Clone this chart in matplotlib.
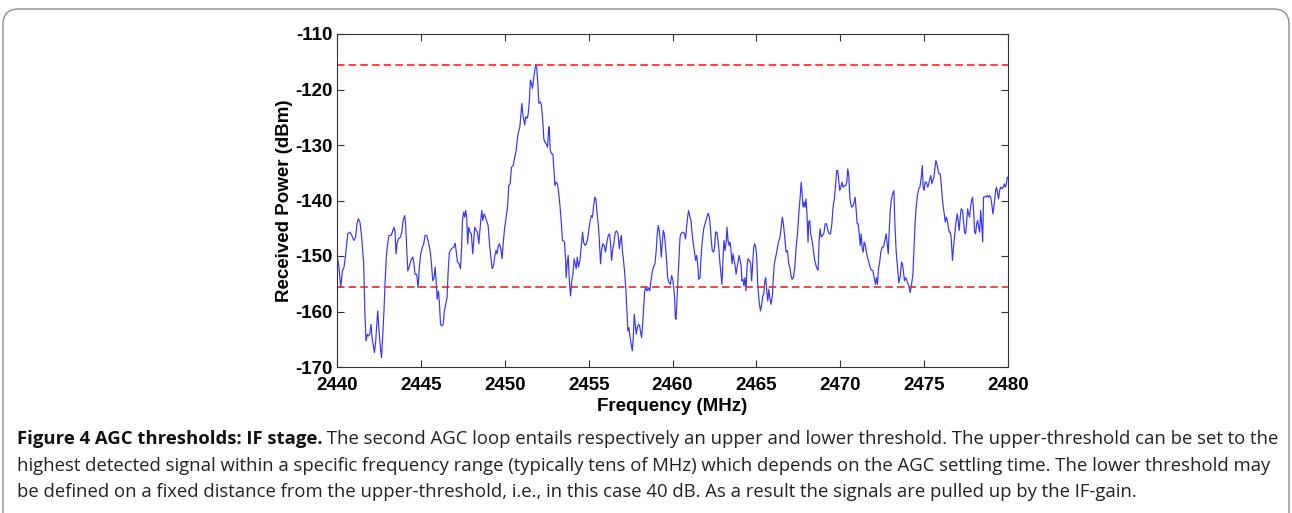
import matplotlib
matplotlib.use("Agg")
import matplotlib.pyplot as plt
from matplotlib.patches import FancyBboxPatch

# Received power sweep over the 2.4 GHz ISM band (MHz, dBm)
freq_mhz = [
    2440.00, 2440.12, 2440.22, 2440.32, 2440.42, 2440.52, 2440.64, 2440.78, 2440.88, 2441.01,
    2441.11, 2441.19, 2441.27, 2441.37, 2441.47, 2441.53, 2441.59, 2441.67, 2441.73, 2441.81,
    2441.87, 2441.95, 2442.03, 2442.09, 2442.15, 2442.23, 2442.31, 2442.37, 2442.43, 2442.49,
    2442.57, 2442.65, 2442.72, 2442.80, 2442.86, 2442.94, 2443.02, 2443.10, 2443.22, 2443.30,
    2443.40, 2443.46, 2443.52, 2443.58, 2443.66, 2443.78, 2443.86, 2443.94, 2444.04, 2444.10,
    2444.16, 2444.22, 2444.30, 2444.40, 2444.52, 2444.59, 2444.65, 2444.75, 2444.83, 2444.91,
    2444.99, 2445.09, 2445.17, 2445.25, 2445.35, 2445.45, 2445.55, 2445.63, 2445.71, 2445.79,
    2445.85, 2445.91, 2445.97, 2446.05, 2446.11, 2446.17, 2446.25, 2446.33, 2446.40, 2446.48,
    2446.56, 2446.64, 2446.70,
    2446.82, 2446.96, 2447.04, 2447.10, 2447.18, 2447.28, 2447.36, 2447.42, 2447.48, 2447.55,
    2447.61, 2447.67, 2447.73, 2447.79, 2447.85, 2447.93, 2448.01, 2448.09, 2448.15, 2448.21,
    2448.29, 2448.37, 2448.45, 2448.51, 2448.57, 2448.63, 2448.69, 2448.77, 2448.85, 2448.91,
    2449.01, 2449.09, 2449.17, 2449.25, 2449.33, 2449.40, 2449.48, 2449.54, 2449.60, 2449.68,
    2449.76, 2449.84, 2449.92, 2450.00, 2450.10, 2450.18, 2450.24, 2450.32, 2450.40, 2450.50,
    2450.60, 2450.68, 2450.76, 2450.84, 2450.90, 2450.96, 2451.02, 2451.08, 2451.14, 2451.19,
    2451.25, 2451.33, 2451.39, 2451.47, 2451.53, 2451.59, 2451.65, 2451.71, 2451.79, 2451.85,
    2451.91, 2451.97, 2452.03, 2452.11, 2452.19, 2452.27, 2452.33, 2452.39, 2452.47, 2452.55,
    2452.61, 2452.65, 2452.71, 2452.79, 2452.87, 2452.93, 2452.99, 2453.06, 2453.14, 2453.22,
    2453.30, 2453.38, 2453.44,
    2453.52, 2453.56, 2453.62, 2453.66, 2453.72, 2453.78, 2453.84, 2453.92, 2454.00, 2454.08,
    2454.14, 2454.20, 2454.26, 2454.32, 2454.40, 2454.48, 2454.56, 2454.64, 2454.70, 2454.78,
    2454.86, 2454.94, 2455.02, 2455.10, 2455.16, 2455.23, 2455.29, 2455.37, 2455.43, 2455.51,
    2455.59, 2455.65, 2455.71, 2455.77, 2455.85, 2455.93, 2456.01, 2456.09, 2456.17, 2456.25,
    2456.31, 2456.37, 2456.43, 2456.51, 2456.59, 2456.67, 2456.75, 2456.83, 2456.89, 2456.95,
    2457.01, 2457.06, 2457.14, 2457.22, 2457.28, 2457.34, 2457.40, 2457.46, 2457.54, 2457.60,
    2457.66, 2457.72, 2457.78, 2457.84, 2457.90, 2457.98, 2458.04, 2458.10, 2458.16, 2458.22,
    2458.28, 2458.34, 2458.40, 2458.48, 2458.56, 2458.64, 2458.72, 2458.80, 2458.87, 2458.95,
    2459.03, 2459.09, 2459.15, 2459.21, 2459.27, 2459.33, 2459.39, 2459.45, 2459.51, 2459.57,
    2459.65, 2459.71, 2459.79, 2459.87, 2459.95, 2460.03, 2460.11, 2460.17,
    2460.21, 2460.27, 2460.33, 2460.39, 2460.45, 2460.51, 2460.60, 2460.70, 2460.78, 2460.84,
    2460.90, 2460.96, 2461.02, 2461.10, 2461.16, 2461.24, 2461.32, 2461.38, 2461.44, 2461.50,
    2461.56, 2461.64, 2461.70, 2461.78, 2461.86, 2461.94, 2462.02, 2462.12, 2462.20, 2462.26,
    2462.31, 2462.37, 2462.45, 2462.51, 2462.57, 2462.65, 2462.71, 2462.77, 2462.83, 2462.89,
    2462.95, 2463.01, 2463.07, 2463.13, 2463.19, 2463.25, 2463.31, 2463.37, 2463.43, 2463.49,
    2463.55, 2463.61, 2463.67, 2463.73, 2463.79, 2463.85, 2463.91, 2463.97, 2464.03, 2464.09,
    2464.14, 2464.20, 2464.26, 2464.32, 2464.38, 2464.44, 2464.50, 2464.58, 2464.66, 2464.72,
    2464.78, 2464.84, 2464.90, 2464.96, 2465.02, 2465.08, 2465.16, 2465.24, 2465.32, 2465.38,
    2465.44, 2465.50, 2465.56, 2465.62, 2465.68, 2465.74, 2465.80, 2465.88, 2465.96, 2466.01,
    2466.07, 2466.15, 2466.23, 2466.31, 2466.39, 2466.47, 2466.55, 2466.61, 2466.69, 2466.77,
    2466.85, 2466.93,
    2467.01, 2467.05, 2467.13, 2467.21, 2467.29, 2467.37, 2467.45, 2467.53, 2467.61, 2467.67,
    2467.73, 2467.78, 2467.84, 2467.90, 2467.96, 2468.02, 2468.08, 2468.12, 2468.18, 2468.24,
    2468.32, 2468.40, 2468.48, 2468.58, 2468.68, 2468.74, 2468.80, 2468.86, 2468.94, 2469.02,
    2469.10, 2469.18, 2469.26, 2469.34, 2469.42, 2469.50, 2469.57, 2469.65, 2469.73, 2469.79,
    2469.85, 2469.91, 2469.97, 2470.03, 2470.11, 2470.17, 2470.25, 2470.33, 2470.39, 2470.45,
    2470.51, 2470.57, 2470.63, 2470.69, 2470.77, 2470.83, 2470.89, 2470.95, 2471.01, 2471.07,
    2471.13, 2471.19, 2471.25, 2471.31, 2471.37, 2471.42, 2471.48, 2471.54, 2471.62, 2471.70,
    2471.78, 2471.86, 2471.94, 2472.02, 2472.10, 2472.16, 2472.22, 2472.28, 2472.34, 2472.42,
    2472.50, 2472.58, 2472.66, 2472.74, 2472.80, 2472.86, 2472.92, 2472.98, 2473.04, 2473.12,
    2473.20, 2473.25, 2473.33, 2473.41, 2473.49, 2473.57, 2473.65,
    2473.71, 2473.77, 2473.83, 2473.89, 2473.95, 2474.01, 2474.09, 2474.17, 2474.25, 2474.33,
    2474.39, 2474.45, 2474.51, 2474.59, 2474.67, 2474.75, 2474.83, 2474.89, 2474.94, 2475.00,
    2475.06, 2475.14, 2475.22, 2475.28, 2475.34, 2475.40, 2475.46, 2475.52, 2475.58, 2475.64,
    2475.70, 2475.76, 2475.82, 2475.88, 2475.96, 2476.02, 2476.08, 2476.14, 2476.20, 2476.26,
    2476.32, 2476.38, 2476.44, 2476.50, 2476.56, 2476.61, 2476.69, 2476.75, 2476.81, 2476.89,
    2476.97, 2477.03, 2477.09, 2477.15, 2477.21, 2477.29, 2477.35, 2477.41, 2477.47, 2477.53,
    2477.59, 2477.65, 2477.71, 2477.77, 2477.83, 2477.89, 2477.95, 2478.01, 2478.07, 2478.13,
    2478.19, 2478.25, 2478.31, 2478.37, 2478.43, 2478.49, 2478.54, 2478.60, 2478.68, 2478.76,
    2478.84, 2478.90, 2478.96, 2479.02, 2479.10, 2479.18, 2479.26, 2479.32, 2479.38, 2479.44,
    2479.50, 2479.56, 2479.64, 2479.72, 2479.78, 2479.84, 2479.90, 2479.96, 2480.00,
]

power_dbm = [
    -149.9, -152.0, -155.7, -152.7, -152.0, -149.6, -146.0, -145.7, -146.3, -147.2,
    -146.6, -144.2, -143.3, -143.9, -146.6, -149.0, -151.4, -161.1, -165.3, -164.1,
    -164.4, -164.1, -162.3, -164.7, -165.9, -167.4, -165.3, -162.3, -159.9, -162.9,
    -165.9, -168.3, -164.7, -159.9, -155.1, -150.2, -147.8, -146.3, -146.3, -145.7,
    -144.8, -145.7, -149.6, -147.8, -146.9, -146.6, -145.7, -143.6, -142.7, -144.8,
    -149.0, -152.7, -152.0, -150.8, -150.2, -151.4, -153.3, -153.3, -155.7, -152.0,
    -149.6, -148.4, -147.8, -146.3, -146.3, -147.5, -149.0, -151.4, -154.5, -153.9,
    -152.0, -154.5, -157.8, -156.3, -158.7, -162.3, -162.6, -162.3, -159.9, -158.7,
    -157.5, -152.0, -149.3,
    -148.7, -148.4, -147.7, -149.0, -151.1, -151.4, -152.3, -149.0, -143.6, -142.1,
    -143.0, -141.8, -143.0, -147.8, -144.8, -145.7, -146.0, -149.6, -147.2, -144.8,
    -145.4, -145.7, -147.8, -145.7, -143.6, -141.8, -143.6, -142.4, -143.0, -143.6,
    -144.5, -147.8, -150.2, -152.3, -151.7, -150.2, -149.0, -149.6, -148.4, -147.8,
    -148.7, -150.5, -147.2, -144.8, -142.7, -140.6, -137.3, -137.0, -134.0, -133.7,
    -132.2, -131.0, -128.6, -127.4, -126.7, -124.6, -122.5, -124.6, -125.5, -126.4,
    -124.9, -125.2, -124.6, -121.9, -118.3, -118.9, -119.8, -118.3, -116.5, -115.5,
    -116.2, -118.9, -122.5, -122.2, -122.8, -125.8, -128.9, -129.5, -129.8, -130.4,
    -127.4, -126.7, -131.0, -131.6, -131.6, -134.3, -137.3, -136.7, -137.0, -138.8,
    -141.2, -144.2, -147.2,
    -147.3, -147.5, -150.2, -153.9, -151.4, -149.9, -153.9, -157.2, -154.5, -152.7,
    -150.5, -151.4, -152.3, -150.2, -152.0, -150.8, -148.4, -145.7, -147.5, -148.1,
    -147.8, -146.9, -145.1, -143.6, -142.7, -143.0, -141.2, -139.4, -139.7, -142.4,
    -144.8, -147.8, -151.4, -149.0, -147.8, -148.1, -149.3, -147.5, -146.3, -146.0,
    -147.8, -150.8, -149.0, -147.5, -145.7, -145.5, -146.0, -148.7, -147.2, -146.3,
    -149.0, -150.2, -152.7, -156.0, -159.9, -163.5, -162.9, -164.4, -165.9, -167.1,
    -164.7, -160.5, -162.3, -164.1, -162.9, -162.3, -162.6, -163.8, -164.7, -162.3,
    -159.3, -156.3, -155.7, -156.3, -155.7, -156.3, -154.5, -152.7, -152.0, -151.4,
    -149.0, -146.0, -144.5, -145.4, -147.2, -150.2, -147.8, -145.4, -146.0, -147.8,
    -150.8, -153.9, -154.8, -155.1, -153.5, -154.5, -156.9, -161.1,
    -161.4, -157.5, -153.9, -150.2, -146.6, -146.0, -145.7, -145.9, -146.9, -144.8,
    -143.0, -141.8, -142.7, -143.6, -145.7, -147.8, -149.6, -150.8, -149.9, -151.4,
    -154.2, -153.9, -150.2, -147.2, -145.1, -144.2, -143.3, -142.3, -143.0, -144.8,
    -147.2, -149.0, -149.3, -148.4, -145.7, -145.7, -147.2, -149.0, -151.4, -153.3,
    -155.1, -150.5, -147.2, -149.0, -147.8, -144.8, -147.2, -148.1, -147.5, -149.0,
    -151.4, -149.6, -150.8, -151.7, -153.3, -152.0, -151.1, -149.9, -150.8, -151.7,
    -154.5, -154.2, -155.4, -153.9, -156.3, -152.0, -150.5, -150.8, -151.4, -154.5,
    -151.4, -148.4, -147.8, -148.4, -150.2, -155.1, -158.1, -159.9, -158.7, -157.2,
    -156.9, -154.5, -153.9, -156.3, -158.1, -156.0, -157.5, -158.7, -156.9, -153.9,
    -151.4, -150.2, -149.0, -147.5, -146.9, -145.1, -143.0, -144.2, -146.6, -149.3,
    -149.0, -151.4,
    -152.3, -153.3, -154.2, -153.9, -152.0, -148.4, -146.0, -142.4, -139.4, -136.7,
    -138.8, -141.2, -140.3, -141.2, -139.7, -142.7, -147.5, -143.9, -143.6, -146.0,
    -147.2, -149.0, -150.8, -152.0, -152.6, -147.2, -145.1, -146.6, -146.3, -146.0,
    -144.2, -144.2, -145.4, -146.0, -146.0, -144.2, -141.2, -139.7, -136.7, -134.6,
    -134.6, -136.4, -138.2, -137.7, -136.7, -137.6, -137.3, -137.3, -136.7, -134.3,
    -135.5, -139.4, -140.6, -141.2, -140.9, -140.3, -139.4, -141.8, -144.2, -144.2,
    -146.0, -148.1, -146.0, -148.7, -149.3, -147.5, -147.8, -149.0, -150.2, -151.1,
    -152.0, -152.6, -152.6, -153.9, -155.1, -153.9, -155.1, -152.3, -151.4, -149.3,
    -148.4, -148.4, -147.2, -146.0, -147.8, -149.6, -145.4, -141.8, -140.0, -138.8,
    -138.2, -143.6, -149.0, -152.0, -154.8, -153.9, -151.1,
    -151.4, -152.9, -154.5, -153.9, -154.2, -154.8, -155.4, -156.6, -155.1, -153.3,
    -149.0, -144.8, -141.8, -139.4, -137.9, -137.6, -135.8, -133.7, -137.6, -138.2,
    -136.7, -136.7, -137.6, -137.0, -136.1, -135.5, -137.0, -136.4, -135.8, -134.3,
    -132.8, -133.4, -134.3, -135.2, -135.2, -137.0, -139.4, -141.2, -142.4, -143.9,
    -143.0, -143.6, -144.8, -145.7, -145.7, -146.6, -150.8, -148.4, -146.6, -144.2,
    -142.4, -143.6, -145.4, -143.0, -141.5, -141.8, -143.9, -145.7, -146.0, -144.2,
    -141.5, -142.4, -143.0, -141.2, -140.0, -139.4, -141.8, -145.7, -146.0, -144.2,
    -143.6, -144.8, -145.7, -141.8, -144.2, -147.5, -139.4, -139.3, -139.4, -139.1,
    -139.4, -139.1, -139.4, -140.3, -142.4, -140.6, -138.2, -137.6, -138.8, -139.7,
    -138.2, -137.6, -137.9, -137.6, -137.0, -137.6, -137.0, -135.8, -136.0,
]

# AGC thresholds: upper at the strongest detected signal, lower 40 dB below
upper_threshold = -115.5
lower_threshold = upper_threshold - 40.0

x_ticks = [2440, 2445, 2450, 2455, 2460, 2465, 2470, 2475, 2480]
y_ticks = [-170, -160, -150, -140, -130, -120, -110]

caption_bold = "Figure 4 AGC thresholds: IF stage."
caption_lines = [
    " The second AGC loop entails respectively an upper and lower threshold. The upper-threshold can be set to the",
    "highest detected signal within a specific frequency range (typically tens of MHz) which depends on the AGC settling time. The lower threshold may",
    "be defined on a fixed distance from the upper-threshold, i.e., in this case 40 dB. As a result the signals are pulled up by the IF-gain.",
]

W, H = 1292, 513
fig = plt.figure(figsize=(W / 100, H / 100), dpi=100)

# rounded frame around figure and caption
frame = FancyBboxPatch((3 / W, -0.2), (W - 6) / W, 1 + 0.2 - 9 / H,
                       boxstyle="round,pad=0,rounding_size=0.012",
                       transform=fig.transFigure, fill=False,
                       edgecolor="#8c8c8c", linewidth=1.0, mutation_aspect=W / H)
fig.patches.append(frame)

ax = fig.add_axes([337 / W, 1 - 367 / H, (1008 - 337) / W, (367 - 34) / H])
ax.plot(freq_mhz, power_dbm, color="#3535ff", linewidth=0.85)
ax.axhline(upper_threshold, color="#ff2020", linestyle=(0, (4.5, 2.5)), linewidth=1.2)
ax.axhline(lower_threshold, color="#ff2020", linestyle=(0, (4.5, 2.5)), linewidth=1.2)

ax.set_xlim(2440, 2480)
ax.set_ylim(-170, -110)
ax.set_xticks(x_ticks)
ax.set_yticks(y_ticks)
tick_font = dict(family="Liberation Sans", weight="bold", size=13.5)
ax.set_xticklabels([str(t) for t in x_ticks], **tick_font)
ax.set_yticklabels([str(t) for t in y_ticks], **tick_font)
ax.tick_params(direction="in", length=5, width=0.8, color="#333333",
               top=True, right=True)
ax.tick_params(axis="x", pad=7)
ax.tick_params(axis="y", pad=3)
for s in ax.spines.values():
    s.set_color("#333333")
    s.set_linewidth(0.8)

ax.set_xlabel("Frequency (MHz)", family="Liberation Sans", weight="bold", size=13.5, labelpad=3)
ax.set_ylabel("Received Power (dBm)", family="Liberation Sans", weight="bold", size=13.5, labelpad=2)

# caption
cap_size = 13.3
y0 = 1 - 439 / H
t = fig.text(17 / W, y0, caption_bold, family="Open Sans", weight="bold",
             size=cap_size, va="center", ha="left", color="#111111")
fig.canvas.draw()
bb = t.get_window_extent()
fig.text(bb.x1 / W, y0, caption_lines[0], family="Open Sans", size=cap_size,
         va="center", ha="left", color="#222222")
fig.text(17 / W, 1 - 466 / H, caption_lines[1], family="Open Sans", size=cap_size,
         va="center", ha="left", color="#222222")
fig.text(17 / W, 1 - 492 / H, caption_lines[2], family="Open Sans", size=cap_size,
         va="center", ha="left", color="#222222")

fig.savefig("out.png", dpi=100)
